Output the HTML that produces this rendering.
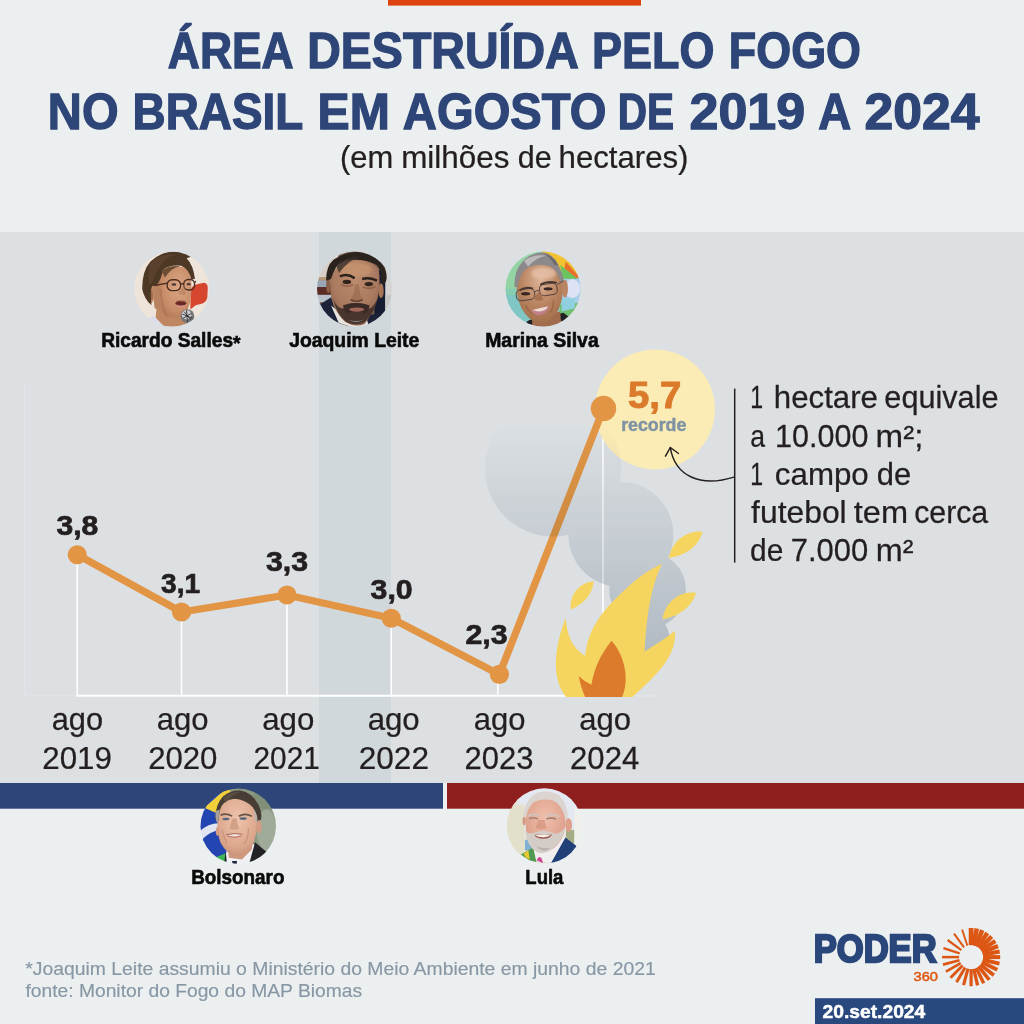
<!DOCTYPE html>
<html><head><meta charset="utf-8"><title>Área destruída pelo fogo no Brasil</title>
<style>html,body{margin:0;padding:0;background:#eceff0;}svg{display:block}text{font-family:"Liberation Sans",sans-serif;}</style></head>
<body><svg width="1024" height="1024" viewBox="0 0 1024 1024">
<rect x="0" y="0" width="1024" height="1024" fill="#eceff0"/>
<rect x="388" y="0" width="253" height="5.6" fill="#dd4210"/>
<rect x="0" y="232" width="1024" height="551" fill="#dce0e3"/>
<rect x="319" y="232" width="72" height="551" fill="#d1d8dc"/>
<path d="M24.6 381V695.8H78" fill="none" stroke="#e2e5e8" stroke-width="1"/>
<line x1="76.5" y1="695.8" x2="600" y2="695.8" stroke="#fff" stroke-width="2"/>
<line x1="600" y1="695.8" x2="657.5" y2="695.8" stroke="#e4e7e9" stroke-width="1.2"/>
<line x1="77.25" y1="554.75" x2="77.25" y2="695.8" stroke="#fff" stroke-width="1.6"/>
<line x1="181.5" y1="612" x2="181.5" y2="695.8" stroke="#fff" stroke-width="1.6"/>
<line x1="287" y1="595" x2="287" y2="695.8" stroke="#fff" stroke-width="1.6"/>
<line x1="391.25" y1="618.25" x2="391.25" y2="695.8" stroke="#fff" stroke-width="1.6"/>
<line x1="497.8" y1="674.4" x2="497.8" y2="695.8" stroke="#fff" stroke-width="1.6"/>
<line x1="603" y1="408.4" x2="603" y2="695.8" stroke="#fff" stroke-width="1.6"/>
<circle cx="655" cy="409.4" r="60" fill="#fbebb4"/>
<path d="M77.25 554.75 L181.5 612 L287 595 L391.25 618.25 L499.4 674.4 L603.5 408.4" fill="none" stroke="#e29645" stroke-width="7.3" stroke-linejoin="round" stroke-linecap="round"/>
<circle cx="77.25" cy="554.75" r="9.6" fill="#e29645"/>
<circle cx="181.5" cy="612" r="9.6" fill="#e29645"/>
<circle cx="287" cy="595" r="9.6" fill="#e29645"/>
<circle cx="391.25" cy="618.25" r="9.6" fill="#e29645"/>
<circle cx="499.4" cy="674.4" r="9.6" fill="#e29645"/>
<circle cx="603.5" cy="408.4" r="12.7" fill="#e29645"/>
<defs>
<linearGradient id="sg" gradientUnits="userSpaceOnUse" x1="0" y1="424" x2="0" y2="664"><stop offset="0" stop-color="#ffffff"/><stop offset="1" stop-color="#cbd2d9"/></linearGradient>
</defs>
<g style="mix-blend-mode:multiply" fill="url(#sg)"><circle cx="553" cy="468.5" r="68"/><circle cx="620.9" cy="534.6" r="52.5"/><circle cx="647.6" cy="590" r="38.4"/><circle cx="643" cy="639" r="26.5"/></g>
<path d="M566.2 696.9 C552 680 553 650 565.8 617.7 C567 640 576 650 585.1 655.7 C588 630 600 610 636.6 579.5 C646 572 655 567 662 563.8 C652 585 647 610 644.6 651.4 C655 645 666 638 674.9 631 C676 650 668 666 632.4 696.9 L566.2 696.9 Z" fill="#f5d55f"/>
<path d="M585.1 696.9 C582 690 580 683 578.7 676.1 C583 680 587 683 591.5 684.7 C594 668 601 654 611.5 640.7 C622 652 631 676 622.2 696.9 Z" fill="#db7b2b"/>
<path d="M570.7 609.5 C569 596 579 582 593.7 581.6 C593 594 583 605 570.7 609.5 Z" fill="#f5d55f"/>
<path d="M668.9 558 C672 541 687 530 702.6 531.8 C699 546 685 556 668.9 558 Z" fill="#f5d55f"/>
<path d="M662.4 619.2 C665 602 680 590 696.1 592.8 C692 607 678 617 662.4 619.2 Z" fill="#f5d55f"/>
<line x1="734.7" y1="388.6" x2="734.7" y2="562.6" stroke="#231f20" stroke-width="1.5"/>
<path d="M734.7 476.9 C700 488 675 476 670.3 447.5" fill="none" stroke="#231f20" stroke-width="1.5"/>
<path d="M665.2 456.6 L670.3 447.5 L678.9 453.75" fill="none" stroke="#231f20" stroke-width="1.5"/>
<rect x="0" y="783" width="443" height="25.7" fill="#2d4578"/>
<rect x="447" y="783" width="577" height="25.7" fill="#8f1f1e"/>
<defs><filter id="pb" x="-5%" y="-5%" width="110%" height="110%"><feGaussianBlur stdDeviation="9"/></filter>
<filter id="pb3" x="-20%" y="-20%" width="140%" height="140%"><feGaussianBlur stdDeviation="22"/></filter>
<radialGradient id="sk1" cx="0.62" cy="0.4" r="0.75"><stop offset="0" stop-color="#dca684"/><stop offset="0.6" stop-color="#c88e69"/><stop offset="1" stop-color="#a87050"/></radialGradient>
<radialGradient id="sk2" cx="0.5" cy="0.3" r="0.8"><stop offset="0" stop-color="#bd8c6e"/><stop offset="0.55" stop-color="#a97a60"/><stop offset="1" stop-color="#80563f"/></radialGradient>
<radialGradient id="sk3" cx="0.5" cy="0.28" r="0.8"><stop offset="0" stop-color="#deb397"/><stop offset="0.5" stop-color="#b98460"/><stop offset="1" stop-color="#9a6846"/></radialGradient>
<radialGradient id="sk4" cx="0.5" cy="0.35" r="0.8"><stop offset="0" stop-color="#efc4ac"/><stop offset="0.6" stop-color="#dca88e"/><stop offset="1" stop-color="#b98068"/></radialGradient>
<radialGradient id="sk5" cx="0.5" cy="0.35" r="0.8"><stop offset="0" stop-color="#efc0ac"/><stop offset="0.6" stop-color="#e0a48f"/><stop offset="1" stop-color="#c98a78"/></radialGradient>
</defs><clipPath id="cp1"><circle cx="510" cy="525" r="457"/></clipPath>
<g transform="translate(130 246) scale(0.082031)"><g clip-path="url(#cp1)"><g filter="url(#pb)"><rect x="0" y="0" width="1024" height="1024" fill="#efe4d9"/>
<path d="M735 775 L742 520 Q760 480 830 462 L900 448 Q952 452 948 520 L942 630 Q930 692 860 706 L800 722 Z" fill="#d6452f"/>
<path d="M330 700 L300 1000 L720 1000 L700 700 Z" fill="#bf8662"/>
<path d="M225 885 L285 845 L430 995 L250 1000 Z" fill="#dcdde8"/>
<path d="M330 470 Q330 330 470 260 Q620 220 720 300 Q760 420 745 600 Q735 760 640 860 Q540 900 440 840 Q330 700 330 470 Z" fill="url(#sk1)"/>
<path d="M310 520 Q310 760 470 880 Q380 700 385 520 Z" fill="#a87252" opacity="0.6"/>
<path d="M270 470 L345 470 L400 800 L300 760 Z" fill="#b98260"/>
<ellipse cx="248" cy="590" rx="52" ry="105" fill="#c08864"/>
<ellipse cx="255" cy="600" rx="25" ry="60" fill="#a06c4e"/>
<path d="M148 520 Q150 300 250 190 Q380 66 560 68 Q700 78 752 128 L690 150 Q770 230 792 400 L748 410 Q725 285 625 240 Q480 222 402 292 Q382 400 332 470 L272 492 Q242 520 262 722 Q170 640 148 520 Z" fill="#4e3826"/>
<path d="M250 200 Q380 90 560 100 Q420 140 330 300 Q280 400 250 480 Q200 400 250 200 Z" fill="#5e4430" opacity="0.8"/>
<path d="M385 300 Q470 232 610 245 Q500 272 425 385 Z" fill="#6e4e34"/>
<g fill="none" stroke="#4a2e22" stroke-width="17"><rect x="452" y="412" width="165" height="132" rx="62"/><rect x="655" y="408" width="132" height="128" rx="56"/><path d="M617 465 Q636 452 655 465"/><path d="M455 452 L300 482"/><path d="M787 445 L802 430"/></g>
<ellipse cx="535" cy="470" rx="30" ry="16" fill="#4a3a3a"/><ellipse cx="715" cy="465" rx="26" ry="15" fill="#4a3a3a"/>
<ellipse cx="620" cy="698" rx="66" ry="30" fill="#6a2c28"/>
<path d="M553 712 Q625 792 692 712 Q625 745 553 712 Z" fill="#d8918c"/>
<path d="M560 668 Q620 650 685 672 Q620 680 560 668Z" fill="#b86a60"/>
<path d="M585 575 Q630 612 685 585 L655 470 Z" fill="#b57a58" opacity="0.55"/>
<circle cx="700" cy="855" r="84" fill="#77777a"/>
<circle cx="690" cy="838" r="58" fill="#cfcfd2"/>
<path d="M640 830 L760 880 M650 880 L750 820 M660 800 L740 900 M690 780 L700 930" stroke="#2e2e30" stroke-width="11" fill="none"/>
</g></g></g><clipPath id="cp2"><circle cx="518" cy="525" r="457"/></clipPath>
<g transform="translate(312 246) scale(0.082031)"><g clip-path="url(#cp2)"><g filter="url(#pb)"><rect x="0" y="0" width="1024" height="1024" fill="#7a5e50"/>
<rect x="0" y="0" width="320" height="385" fill="#d8d0c6"/>
<rect x="0" y="380" width="260" height="45" fill="#b89878"/>
<rect x="40" y="420" width="200" height="85" fill="#98a6b8"/>
<rect x="40" y="500" width="200" height="100" fill="#5a2e28"/>
<rect x="40" y="595" width="200" height="90" fill="#b8c0cc"/>
<rect x="760" y="300" width="150" height="700" fill="#191f30"/>
<rect x="893" y="200" width="140" height="585" fill="#d6d4d3"/>
<rect x="893" y="600" width="140" height="185" fill="#c8c6c4"/>
<path d="M50 740 L235 625 L350 1000 L50 1000 Z" fill="#1c2438"/>
<path d="M640 1000 L690 840 L870 815 L920 1000 Z" fill="#1c2438"/>
<path d="M232 725 L325 935 L520 1000 L700 1000 L665 880 L400 860 Z" fill="#e6e2de"/>
<path d="M228 380 Q205 560 262 722 Q330 860 400 920 Q520 1000 640 950 Q735 840 800 640 Q840 450 812 280 Q700 150 520 150 Q330 160 228 380 Z" fill="url(#sk2)"/>
<ellipse cx="530" cy="290" rx="200" ry="90" fill="#c7946f" opacity="0.8" filter="url(#pb3)"/>
<ellipse cx="842" cy="545" rx="32" ry="90" fill="#a87456"/>
<ellipse cx="200" cy="485" rx="28" ry="90" fill="#8a5e46"/>
<path d="M172 425 Q168 250 262 168 Q400 68 560 72 Q762 88 862 232 Q934 332 900 440 L848 462 Q852 300 790 232 Q650 158 480 168 Q335 180 292 262 Q252 332 232 402 Z" fill="#2a221e"/>
<path d="M300 250 Q400 120 600 130 Q450 160 330 330 Z" fill="#3a302a" opacity="0.8"/>
<path d="M258 640 Q300 840 420 925 Q540 985 640 925 Q760 830 800 640 Q742 762 692 762 Q620 688 540 698 Q440 688 380 762 Q302 762 258 640 Z" fill="#46362f"/>
<path d="M378 722 Q540 665 700 722 Q692 802 640 822 Q540 760 440 822 Q392 802 378 722 Z" fill="#3a2c26"/>
<path d="M440 900 Q540 960 630 900 Q540 930 440 900Z" fill="#8a7e78"/>
<ellipse cx="545" cy="775" rx="92" ry="26" fill="#a0665a"/>
<ellipse cx="425" cy="438" rx="52" ry="26" fill="#33241f"/>
<ellipse cx="693" cy="464" rx="52" ry="26" fill="#33241f"/>
<path d="M350 470 Q430 510 500 470" stroke="#8a5c46" stroke-width="22" fill="none" opacity="0.8"/>
<path d="M620 500 Q700 535 770 495" stroke="#8a5c46" stroke-width="22" fill="none" opacity="0.8"/>
<path d="M340 372 Q430 328 520 392" stroke="#2a201c" stroke-width="30" fill="none"/>
<path d="M612 402 Q700 380 792 422" stroke="#2a201c" stroke-width="30" fill="none"/>
<path d="M525 470 Q505 620 472 652 Q540 700 622 652 Q582 600 572 470 Z" fill="#9a6a4e" opacity="0.65"/>
<path d="M470 655 Q545 690 620 655" stroke="#6a4434" stroke-width="18" fill="none"/>
</g></g></g><clipPath id="cp3"><circle cx="512" cy="525" r="457"/></clipPath>
<g transform="translate(501 246) scale(0.082031)"><g clip-path="url(#cp3)"><g filter="url(#pb)"><rect x="0" y="0" width="1024" height="1024" fill="#86cdb2"/>
<rect x="0" y="0" width="420" height="520" fill="#93d3a4"/>
<rect x="0" y="600" width="420" height="424" fill="#7fc6c4"/>
<path d="M480 50 L800 50 L960 380 L700 300 Z" fill="#f2c232"/>
<path d="M790 190 L960 380 L900 400 L770 280 Z" fill="#e8702c"/>
<path d="M720 230 L930 400 L760 420 Z" fill="#6cc45f"/>
<rect x="740" y="400" width="284" height="330" fill="#a9cdea"/>
<ellipse cx="870" cy="520" rx="95" ry="115" fill="#dde2f4"/>
<path d="M720 720 L1024 680 L1024 1024 L720 1024 Z" fill="#6fc070"/>
<path d="M740 640 L900 640 L900 760 L740 800Z" fill="#8fd0e0"/>
<path d="M305 935 Q350 880 420 900 L760 815 L835 870 L700 1000 L330 1000 Z" fill="#202328"/>
<path d="M380 880 L720 800 L740 1000 L380 1000 Z" fill="#a06c4c"/>
<path d="M190 500 Q185 330 300 240 Q460 180 620 240 Q740 330 760 470 Q760 640 700 780 Q620 920 480 960 Q340 920 250 760 Q195 640 190 500 Z" fill="url(#sk3)"/>
<ellipse cx="520" cy="330" rx="150" ry="70" fill="#e8c4ac" opacity="0.75" filter="url(#pb3)"/>
<path d="M165 500 Q150 300 280 170 Q400 70 520 80 Q640 100 700 230 Q750 330 768 425 L722 435 Q690 300 600 250 Q460 200 330 262 Q222 332 202 500 Z" fill="#8d898b"/>
<path d="M280 180 Q400 90 560 120 Q440 130 330 250 Z" fill="#bdb9bc"/>
<path d="M520 90 Q640 110 700 240 L650 230 Q600 130 520 90Z" fill="#6e6a6c"/>
<ellipse cx="780" cy="520" rx="36" ry="110" fill="#bb8462"/>
<g fill="none" stroke="#54443f" stroke-width="12"><rect x="185" y="525" width="225" height="135" rx="55" transform="rotate(-8 300 590)"/><rect x="470" y="460" width="215" height="140" rx="55" transform="rotate(-8 580 530)"/><path d="M410 560 Q440 535 470 545"/><path d="M685 470 L762 425"/></g>
<path d="M230 540 Q300 490 390 520" stroke="#46362f" stroke-width="24" fill="none"/>
<path d="M480 470 Q570 420 680 450" stroke="#46362f" stroke-width="24" fill="none"/>
<ellipse cx="300" cy="582" rx="55" ry="20" fill="#382824"/>
<ellipse cx="575" cy="522" rx="55" ry="20" fill="#382824"/>
<path d="M368 780 Q480 750 592 728 Q560 842 450 842 Q400 832 368 780 Z" fill="#c4808a"/>
<path d="M385 780 Q480 755 575 738 Q540 800 450 800 Z" fill="#ebe0d2"/>
<path d="M400 640 Q450 692 522 652 Q480 600 470 540 Z" fill="#9a6646" opacity="0.7"/>
<path d="M300 720 Q340 800 380 830" stroke="#96623f" stroke-width="18" fill="none" opacity="0.7"/>
<path d="M640 660 Q640 760 600 810" stroke="#96623f" stroke-width="18" fill="none" opacity="0.7"/>
</g></g></g><clipPath id="cp4"><circle cx="515" cy="515" r="460"/></clipPath>
<g transform="translate(196 784) scale(0.082031)"><g clip-path="url(#cp4)"><g filter="url(#pb)"><rect x="0" y="0" width="1024" height="1024" fill="#8b9981"/>
<ellipse cx="860" cy="560" rx="120" ry="250" fill="#a0aa98"/>
<rect x="700" y="0" width="324" height="300" fill="#7f8f78"/>
<rect x="0" y="0" width="420" height="1024" fill="#2345b2"/>
<path d="M100 290 L350 70 L420 70 L420 330 L240 350 Z" fill="#f2d03a"/>
<path d="M40 580 Q160 470 300 480 L300 560 Q170 570 60 690 Z" fill="#dfe4f0"/>
<path d="M250 890 L420 820 L420 1000 L300 1000 Z" fill="#3fb555"/>
<path d="M620 1000 L720 710 L860 830 L760 1000 Z" fill="#202228"/>
<path d="M340 1000 L360 830 L420 860 Z" fill="#202228"/>
<path d="M365 850 L380 1000 L640 1000 L712 740 L600 700 L400 700 Z" fill="#f0f0f5"/>
<path d="M440 940 L500 940 L492 992 L450 992 Z" fill="#1c2540"/>
<path d="M380 700 L400 900 L560 920 L680 800 L700 640 Z" fill="#cf9880"/>
<path d="M262 440 Q250 600 300 720 Q380 860 480 880 Q600 870 690 740 Q750 600 750 440 Q720 250 600 190 Q440 160 330 230 Q270 320 262 440 Z" fill="url(#sk4)"/>
<path d="M235 440 Q230 260 330 150 Q430 70 540 80 Q680 100 760 250 Q812 350 792 432 L745 482 Q740 360 690 280 Q600 190 470 180 Q360 190 310 270 Q280 330 275 452 Z" fill="#473d35"/>
<path d="M330 160 Q430 90 540 100 Q440 130 360 230Z" fill="#5e534a" opacity="0.8"/>
<path d="M700 300 Q762 380 745 482 L715 440 Q720 360 700 300 Z" fill="#b9b2ac"/>
<path d="M240 330 Q230 400 250 462 L275 452 Q275 380 290 310 Z" fill="#a8a29c"/>
<ellipse cx="767" cy="520" rx="32" ry="82" fill="#d39c84"/>
<ellipse cx="263" cy="580" rx="22" ry="52" fill="#d39c84"/>
<path d="M300 380 Q370 350 440 392" stroke="#66524a" stroke-width="20" fill="none"/>
<path d="M520 392 Q600 350 680 392" stroke="#66524a" stroke-width="20" fill="none"/>
<ellipse cx="365" cy="427" rx="42" ry="16" fill="#55657e"/>
<ellipse cx="575" cy="422" rx="45" ry="16" fill="#55657e"/>
<path d="M440 420 Q420 520 410 542 Q470 572 530 542 Q500 500 500 420 Z" fill="#c8947c" opacity="0.7"/>
<path d="M375 620 Q470 600 560 615 Q470 652 375 620 Z" fill="#f4ece8"/>
<path d="M370 618 Q470 595 565 612" stroke="#94564c" stroke-width="10" fill="none"/>
<path d="M385 637 Q470 667 555 634" stroke="#bc766c" stroke-width="12" fill="none"/>
<path d="M320 560 Q340 660 380 720" stroke="#c08c74" stroke-width="16" fill="none" opacity="0.7"/>
<path d="M640 540 Q640 660 590 730" stroke="#c08c74" stroke-width="16" fill="none" opacity="0.7"/>
</g></g></g><clipPath id="cp5"><circle cx="518" cy="512" r="460"/></clipPath>
<g transform="translate(502 784) scale(0.082031)"><g clip-path="url(#cp5)"><g filter="url(#pb)"><rect x="0" y="0" width="1024" height="1024" fill="#e8e6dc"/>
<rect x="200" y="0" width="824" height="560" fill="#e4e9f1"/>
<rect x="60" y="250" width="215" height="620" fill="#e2e0ca"/>
<rect x="780" y="560" width="110" height="165" fill="#a4ac84"/>
<rect x="880" y="300" width="144" height="450" fill="#efefec"/>
<rect x="280" y="680" width="100" height="130" fill="#7fb0d0"/>
<path d="M230 860 L380 775 L420 950 L330 930 Z" fill="#4f9a50"/>
<path d="M262 850 L322 808 L338 922 L290 892 Z" fill="#e8c62f"/>
<path d="M590 960 L640 860 L770 650 L912 760 L800 960 Z" fill="#213f78"/>
<path d="M390 800 L420 940 L600 960 L780 640 L650 700 Z" fill="#f1eef0"/>
<path d="M420 930 L450 890 L480 900 L502 967 Z" fill="#cf4590"/>
<path d="M262 430 Q262 200 420 110 Q560 60 700 140 Q820 260 800 460 L760 500 Q740 300 640 230 Q500 190 380 250 Q310 330 300 470 Z" fill="#dcd4d0"/>
<path d="M290 440 Q280 600 330 700 Q420 820 520 830 Q640 810 720 680 Q780 560 770 430 Q740 250 620 200 Q480 170 380 230 Q300 310 290 440 Z" fill="url(#sk5)"/>
<ellipse cx="812" cy="500" rx="42" ry="82" fill="#df9f8b"/>
<ellipse cx="270" cy="450" rx="20" ry="52" fill="#d69682"/>
<path d="M282 560 Q300 760 430 832 Q520 862 600 802 Q740 700 772 520 Q700 622 640 602 Q520 545 400 592 Q320 622 282 560 Z" fill="#d4ccc6"/>
<path d="M420 760 Q500 860 600 770 Q520 800 420 760Z" fill="#bcb2ac"/>
<path d="M395 622 Q500 598 610 617 Q585 672 500 668 Q420 668 395 622 Z" fill="#9c5c54"/>
<path d="M405 624 Q500 606 598 620 Q560 652 500 648 Q440 648 405 624 Z" fill="#f6f0e8"/>
<path d="M330 422 Q390 402 440 427" stroke="#9a7a72" stroke-width="16" fill="none"/>
<path d="M540 427 Q600 402 660 427" stroke="#9a7a72" stroke-width="16" fill="none"/>
<path d="M310 390 Q390 350 450 390" stroke="#cfc4c0" stroke-width="20" fill="none"/>
<path d="M540 390 Q620 350 700 400" stroke="#cfc4c0" stroke-width="20" fill="none"/>
<path d="M440 440 Q420 520 410 532 Q480 572 550 532 Q520 500 520 440 Z" fill="#d4927e" opacity="0.7"/>
</g></g></g>
<g transform="translate(971.1 957.1)" fill="#dd5714"><rect x="-2.38" y="-29.1" width="4.75" height="17.1" transform="rotate(0.00)"/><rect x="-2.33" y="-29.1" width="4.66" height="17.1" transform="rotate(11.25)"/><rect x="-2.28" y="-29.1" width="4.56" height="17.1" transform="rotate(22.50)"/><rect x="-2.23" y="-29.1" width="4.47" height="17.1" transform="rotate(33.75)"/><rect x="-2.19" y="-29.1" width="4.38" height="17.1" transform="rotate(45.00)"/><rect x="-2.14" y="-29.1" width="4.28" height="17.1" transform="rotate(56.25)"/><rect x="-2.09" y="-29.1" width="4.19" height="17.1" transform="rotate(67.50)"/><rect x="-2.05" y="-29.1" width="4.09" height="17.1" transform="rotate(78.75)"/><rect x="-2.00" y="-29.1" width="4.00" height="17.1" transform="rotate(90.00)"/><rect x="-1.95" y="-29.1" width="3.89" height="17.1" transform="rotate(102.86)"/><rect x="-1.89" y="-29.1" width="3.79" height="17.1" transform="rotate(115.71)"/><rect x="-1.84" y="-29.1" width="3.68" height="17.1" transform="rotate(128.57)"/><rect x="-1.79" y="-29.1" width="3.57" height="17.1" transform="rotate(141.43)"/><rect x="-1.73" y="-29.1" width="3.46" height="17.1" transform="rotate(154.29)"/><rect x="-1.68" y="-29.1" width="3.36" height="17.1" transform="rotate(167.14)"/><rect x="-1.62" y="-29.1" width="3.25" height="17.1" transform="rotate(180.00)"/><rect x="-1.56" y="-29.1" width="3.12" height="17.1" transform="rotate(195.00)"/><rect x="-1.50" y="-29.1" width="3.00" height="17.1" transform="rotate(210.00)"/><rect x="-1.44" y="-29.1" width="2.88" height="17.1" transform="rotate(225.00)"/><rect x="-1.38" y="-29.1" width="2.75" height="17.1" transform="rotate(240.00)"/><rect x="-1.31" y="-29.1" width="2.62" height="17.1" transform="rotate(255.00)"/><rect x="-1.25" y="-29.1" width="2.50" height="17.1" transform="rotate(270.00)"/><rect x="-1.18" y="-29.1" width="2.35" height="17.1" transform="rotate(288.00)"/><rect x="-1.10" y="-29.1" width="2.20" height="17.1" transform="rotate(306.00)"/><rect x="-1.02" y="-29.1" width="2.05" height="17.1" transform="rotate(324.00)"/><rect x="-0.95" y="-29.1" width="1.90" height="17.1" transform="rotate(342.00)"/></g>
<rect x="815" y="998.2" width="209" height="26" fill="#28487e"/>
<g font-family="'Liberation Sans', sans-serif"><text transform="translate(167.84 68.11) scale(0.9025 1)" font-size="49.21" font-weight="bold" fill="#2e4577" stroke="#2e4577" stroke-width="1.28" stroke-linejoin="miter">ÁREA</text>
<text transform="translate(307.19 68.11) scale(0.9464 1)" font-size="49.21" font-weight="bold" fill="#2e4577" stroke="#2e4577" stroke-width="1.28" stroke-linejoin="miter">DESTRUÍDA</text>
<text transform="translate(592.04 68.11) scale(0.9129 1)" font-size="49.21" font-weight="bold" fill="#2e4577" stroke="#2e4577" stroke-width="1.28" stroke-linejoin="miter">PELO</text>
<text transform="translate(728.86 68.11) scale(0.9119 1)" font-size="49.21" font-weight="bold" fill="#2e4577" stroke="#2e4577" stroke-width="1.28" stroke-linejoin="miter">FOGO</text>
<text transform="translate(47.87 129.36) scale(0.9571 1)" font-size="49.21" font-weight="bold" fill="#2e4577" stroke="#2e4577" stroke-width="1.28" stroke-linejoin="miter">NO</text>
<text transform="translate(132.59 129.36) scale(0.9316 1)" font-size="49.21" font-weight="bold" fill="#2e4577" stroke="#2e4577" stroke-width="1.28" stroke-linejoin="miter">BRASIL</text>
<text transform="translate(317.60 129.36) scale(0.9793 1)" font-size="49.21" font-weight="bold" fill="#2e4577" stroke="#2e4577" stroke-width="1.28" stroke-linejoin="miter">EM</text>
<text transform="translate(402.85 129.36) scale(0.9591 1)" font-size="49.21" font-weight="bold" fill="#2e4577" stroke="#2e4577" stroke-width="1.28" stroke-linejoin="miter">AGOSTO</text>
<text transform="translate(617.78 129.36) scale(0.8245 1)" font-size="49.21" font-weight="bold" fill="#2e4577" stroke="#2e4577" stroke-width="1.28" stroke-linejoin="miter">DE</text>
<text transform="translate(689.52 129.36) scale(1.0564 1)" font-size="49.21" font-weight="bold" fill="#2e4577" stroke="#2e4577" stroke-width="1.28" stroke-linejoin="miter">2019</text>
<text transform="translate(818.15 129.36) scale(0.9274 1)" font-size="49.21" font-weight="bold" fill="#2e4577" stroke="#2e4577" stroke-width="1.28" stroke-linejoin="miter">A</text>
<text transform="translate(864.53 129.36) scale(1.0505 1)" font-size="49.21" font-weight="bold" fill="#2e4577" stroke="#2e4577" stroke-width="1.28" stroke-linejoin="miter">2024</text>
<text transform="translate(340.08 168.47) scale(0.9992 1)" font-size="30.95" font-weight="normal" fill="#231f20" stroke="#231f20" stroke-width="0.25" stroke-linejoin="miter">(em</text>
<text transform="translate(401.19 168.47) scale(1.0150 1)" font-size="30.95" font-weight="normal" fill="#231f20" stroke="#231f20" stroke-width="0.25" stroke-linejoin="miter">milhões</text>
<text transform="translate(517.69 168.47) scale(0.9855 1)" font-size="30.95" font-weight="normal" fill="#231f20" stroke="#231f20" stroke-width="0.25" stroke-linejoin="miter">de</text>
<text transform="translate(558.59 168.47) scale(1.0075 1)" font-size="30.95" font-weight="normal" fill="#231f20" stroke="#231f20" stroke-width="0.25" stroke-linejoin="miter">hectares)</text>
<text transform="translate(101.17 346.60) scale(0.9693 1)" font-size="19.76" font-weight="bold" fill="#0a0a0a" stroke="#0a0a0a" stroke-width="0.6" stroke-linejoin="miter">Ricardo Salles<tspan dy="3.6">*</tspan></text>
<text transform="translate(289.18 346.60) scale(0.9805 1)" font-size="19.76" font-weight="bold" fill="#0a0a0a" stroke="#0a0a0a" stroke-width="0.6" stroke-linejoin="miter">Joaquim Leite</text>
<text transform="translate(485.14 346.60) scale(0.9854 1)" font-size="19.76" font-weight="bold" fill="#0a0a0a" stroke="#0a0a0a" stroke-width="0.6" stroke-linejoin="miter">Marina Silva</text>
<text transform="translate(191.14 883.80) scale(0.9550 1)" font-size="19.76" font-weight="bold" fill="#0a0a0a" stroke="#0a0a0a" stroke-width="0.6" stroke-linejoin="miter">Bolsonaro</text>
<text transform="translate(525.33 883.80) scale(0.9374 1)" font-size="19.76" font-weight="bold" fill="#0a0a0a" stroke="#0a0a0a" stroke-width="0.6" stroke-linejoin="miter">Lula</text>
<text transform="translate(56.47 535.38) scale(1.0578 1)" font-size="28.47" font-weight="bold" fill="#231f20" stroke="#231f20" stroke-width="0.74" stroke-linejoin="miter">3,8</text>
<text transform="translate(161.12 592.63) scale(0.9849 1)" font-size="28.47" font-weight="bold" fill="#231f20" stroke="#231f20" stroke-width="0.74" stroke-linejoin="miter">3,1</text>
<text transform="translate(266.00 570.88) scale(1.0636 1)" font-size="28.47" font-weight="bold" fill="#231f20" stroke="#231f20" stroke-width="0.74" stroke-linejoin="miter">3,3</text>
<text transform="translate(370.56 598.88) scale(1.0633 1)" font-size="28.47" font-weight="bold" fill="#231f20" stroke="#231f20" stroke-width="0.74" stroke-linejoin="miter">3,0</text>
<text transform="translate(465.43 644.13) scale(1.0627 1)" font-size="28.47" font-weight="bold" fill="#231f20" stroke="#231f20" stroke-width="0.74" stroke-linejoin="miter">2,3</text>
<text transform="translate(628.06 408.27) scale(1.0357 1)" font-size="36.96" font-weight="bold" fill="#db7a2b" stroke="#db7a2b" stroke-width="0.96" stroke-linejoin="miter">5,7</text>
<text transform="translate(621.14 431.17) scale(0.9965 1)" font-size="17.86" font-weight="bold" fill="#7e93a4" stroke="#7e93a4" stroke-width="0.46" stroke-linejoin="miter">recorde</text>
<text transform="translate(51.71 730.27) scale(0.9950 1)" font-size="30.95" font-weight="normal" fill="#231f20" stroke="#231f20" stroke-width="0.25" stroke-linejoin="miter">ago</text>
<text transform="translate(156.67 730.27) scale(1.0033 1)" font-size="30.95" font-weight="normal" fill="#231f20" stroke="#231f20" stroke-width="0.25" stroke-linejoin="miter">ago</text>
<text transform="translate(262.25 730.27) scale(1.0090 1)" font-size="30.95" font-weight="normal" fill="#231f20" stroke="#231f20" stroke-width="0.25" stroke-linejoin="miter">ago</text>
<text transform="translate(367.65 730.27) scale(1.0076 1)" font-size="30.95" font-weight="normal" fill="#231f20" stroke="#231f20" stroke-width="0.25" stroke-linejoin="miter">ago</text>
<text transform="translate(473.69 730.27) scale(1.0010 1)" font-size="30.95" font-weight="normal" fill="#231f20" stroke="#231f20" stroke-width="0.25" stroke-linejoin="miter">ago</text>
<text transform="translate(579.26 730.27) scale(1.0034 1)" font-size="30.95" font-weight="normal" fill="#231f20" stroke="#231f20" stroke-width="0.25" stroke-linejoin="miter">ago</text>
<text transform="translate(42.31 768.77) scale(1.0115 1)" font-size="30.95" font-weight="normal" fill="#231f20" stroke="#231f20" stroke-width="0.25" stroke-linejoin="miter">2019</text>
<text transform="translate(148.13 768.77) scale(1.0072 1)" font-size="30.95" font-weight="normal" fill="#231f20" stroke="#231f20" stroke-width="0.25" stroke-linejoin="miter">2020</text>
<text transform="translate(253.53 768.77) scale(0.9629 1)" font-size="30.95" font-weight="normal" fill="#231f20" stroke="#231f20" stroke-width="0.25" stroke-linejoin="miter">2021</text>
<text transform="translate(358.70 768.77) scale(1.0207 1)" font-size="30.95" font-weight="normal" fill="#231f20" stroke="#231f20" stroke-width="0.25" stroke-linejoin="miter">2022</text>
<text transform="translate(464.49 768.77) scale(1.0020 1)" font-size="30.95" font-weight="normal" fill="#231f20" stroke="#231f20" stroke-width="0.25" stroke-linejoin="miter">2023</text>
<text transform="translate(570.08 768.77) scale(1.0048 1)" font-size="30.95" font-weight="normal" fill="#231f20" stroke="#231f20" stroke-width="0.25" stroke-linejoin="miter">2024</text>
<text transform="translate(750.32 408.07) scale(0.7459 1)" font-size="30.95" font-weight="normal" fill="#231f20" stroke="#231f20" stroke-width="0.25" stroke-linejoin="miter">1</text>
<text transform="translate(773.86 408.07) scale(1.0079 1)" font-size="30.95" font-weight="normal" fill="#231f20" stroke="#231f20" stroke-width="0.25" stroke-linejoin="miter">hectare</text>
<text transform="translate(884.36 408.07) scale(0.9903 1)" font-size="30.95" font-weight="normal" fill="#231f20" stroke="#231f20" stroke-width="0.25" stroke-linejoin="miter">equivale</text>
<text transform="translate(750.18 446.77) scale(0.8598 1)" font-size="30.95" font-weight="normal" fill="#231f20" stroke="#231f20" stroke-width="0.25" stroke-linejoin="miter">a</text>
<text transform="translate(775.03 446.77) scale(0.9872 1)" font-size="30.95" font-weight="normal" fill="#231f20" stroke="#231f20" stroke-width="0.25" stroke-linejoin="miter">10.000</text>
<text transform="translate(875.60 446.77) scale(1.0698 1)" font-size="30.95" font-weight="normal" fill="#231f20" stroke="#231f20" stroke-width="0.25" stroke-linejoin="miter">m²;</text>
<text transform="translate(750.32 484.88) scale(0.7459 1)" font-size="30.95" font-weight="normal" fill="#231f20" stroke="#231f20" stroke-width="0.25" stroke-linejoin="miter">1</text>
<text transform="translate(774.87 484.88) scale(1.0109 1)" font-size="30.95" font-weight="normal" fill="#231f20" stroke="#231f20" stroke-width="0.25" stroke-linejoin="miter">campo</text>
<text transform="translate(876.80 484.88) scale(0.9983 1)" font-size="30.95" font-weight="normal" fill="#231f20" stroke="#231f20" stroke-width="0.25" stroke-linejoin="miter">de</text>
<text transform="translate(751.08 522.98) scale(1.0290 1)" font-size="30.95" font-weight="normal" fill="#231f20" stroke="#231f20" stroke-width="0.25" stroke-linejoin="miter">futebol</text>
<text transform="translate(853.76 522.98) scale(1.0527 1)" font-size="30.95" font-weight="normal" fill="#231f20" stroke="#231f20" stroke-width="0.25" stroke-linejoin="miter">tem</text>
<text transform="translate(914.16 522.98) scale(0.9788 1)" font-size="30.95" font-weight="normal" fill="#231f20" stroke="#231f20" stroke-width="0.25" stroke-linejoin="miter">cerca</text>
<text transform="translate(750.07 561.27) scale(0.9669 1)" font-size="30.95" font-weight="normal" fill="#231f20" stroke="#231f20" stroke-width="0.25" stroke-linejoin="miter">de</text>
<text transform="translate(790.70 561.27) scale(1.0020 1)" font-size="30.95" font-weight="normal" fill="#231f20" stroke="#231f20" stroke-width="0.25" stroke-linejoin="miter">7.000</text>
<text transform="translate(875.81 561.27) scale(1.0460 1)" font-size="30.95" font-weight="normal" fill="#231f20" stroke="#231f20" stroke-width="0.25" stroke-linejoin="miter">m²</text>
<text transform="translate(25.26 974.82) scale(1.0584 1)" font-size="18.29" font-weight="normal" fill="#8797a4" stroke="#8797a4" stroke-width="0.15" stroke-linejoin="miter">*Joaquim Leite assumiu o Ministério do Meio Ambiente em junho de 2021</text>
<text transform="translate(25.39 997.02) scale(1.0538 1)" font-size="18.29" font-weight="normal" fill="#8797a4" stroke="#8797a4" stroke-width="0.15" stroke-linejoin="miter">fonte: Monitor do Fogo do MAP Biomas</text>
<text transform="translate(813.68 962.10) scale(0.8723 1)" font-size="39.65" font-weight="bold" fill="#2a477b" stroke="#2a477b" stroke-width="2.4" stroke-linejoin="miter">PODER</text>
<text transform="translate(913.50 980.65) scale(1.1020 1)" font-size="13.3" font-weight="normal" fill="#dd5714" stroke="#dd5714" stroke-width="0.5" stroke-linejoin="miter">360</text>
<text transform="translate(822.45 1017.87) scale(1.0687 1)" font-size="18.04" font-weight="bold" fill="#ffffff" stroke="#ffffff" stroke-width="0.47" stroke-linejoin="miter">20.set.2024</text></g>
</svg></body></html>
